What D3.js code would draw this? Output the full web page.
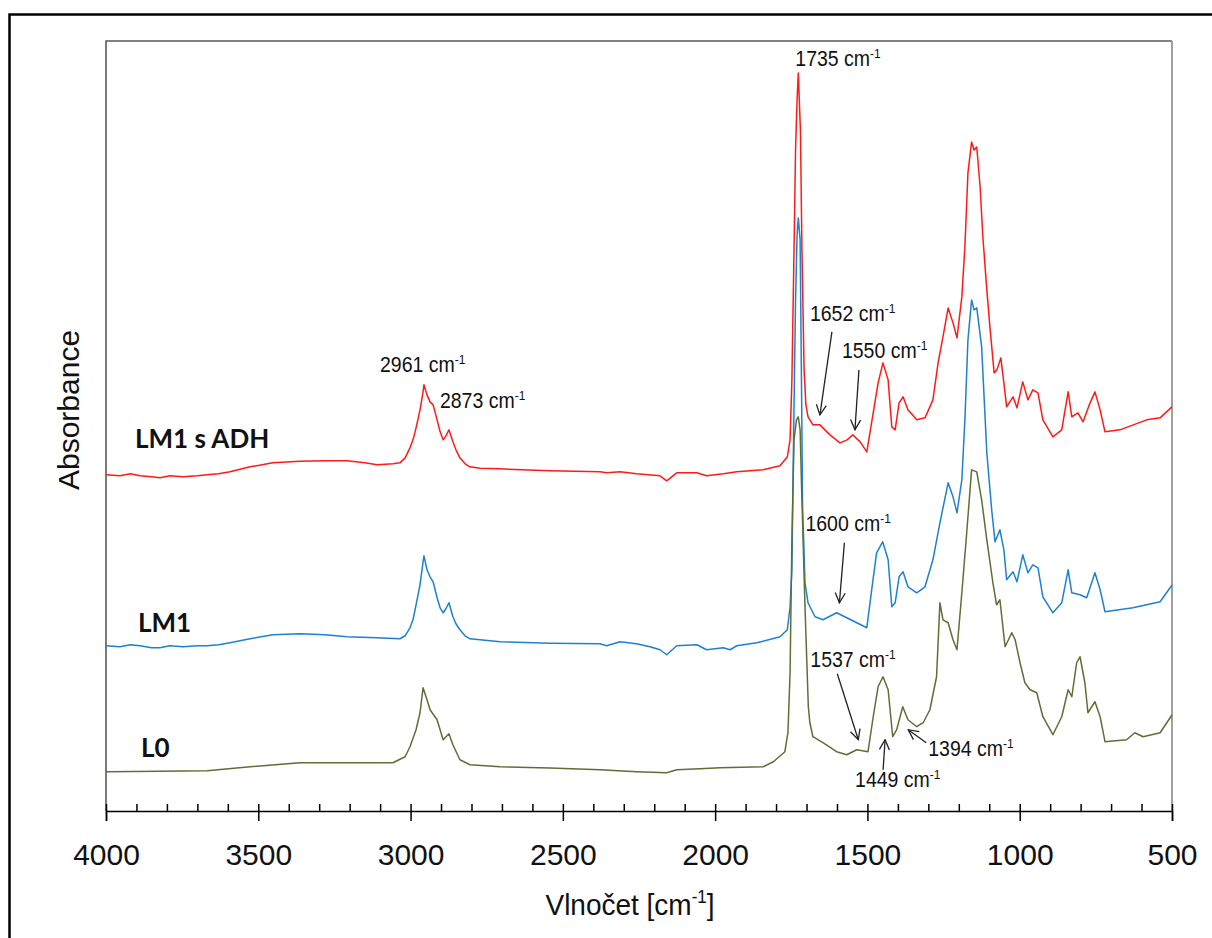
<!DOCTYPE html>
<meta charset="utf-8">
<style>
	body { margin: 0; background: #fff; }
	svg text { font-family: "Liberation Sans", Arial, sans-serif; fill: #111; }
	.series path { fill: none; stroke-width: 1.5; stroke-linejoin: round; }
	.label { font-family: Lato, "Open Sans", sans-serif; font-weight: bold; font-size: 26px; }
	.note { font-size: 19.5px; }
	.arrow { stroke: #222; stroke-width: 1.3; fill: none; }
	.axis path, .axis line { stroke: #000; stroke-width: 1.5; }
</style>
<body>
<script src="https://d3js.org/d3.v7.min.js"></script>
<script>

	// spectra: [wavenumber cm-1, absorbance (offset, a.u.)]
	var specLM1sADH = [
		[4000,0.336],[3954,0.335],[3920,0.337],[3888,0.335],[3850,0.334],[3823,0.333],[3790,0.335],[3747,0.334],
		[3700,0.335],[3668,0.336],[3630,0.337],[3593,0.339],[3527,0.344],
		[3452,0.348],[3363,0.3495],[3281,0.350],[3209,0.350],[3150,0.348],[3110,0.346],[3058,0.347],[3035,0.348],
		[3018,0.353],[3002,0.363],[2992,0.371],[2982,0.383],[2969,0.401],[2959,0.419],[2956,0.426],[2946,0.416],
		[2936,0.409],[2926,0.406],[2913,0.391],[2903,0.379],[2893,0.371],[2884,0.375],[2874,0.381],[2861,0.369],
		[2851,0.361],[2838,0.353],[2821,0.347],[2805,0.344],[2772,0.3425],[2706,0.342],[2542,0.340],[2378,0.339],
		[2356,0.338],[2312,0.339],[2258,0.337],[2181,0.335],[2159,0.330],[2126,0.338],[2060,0.338],[2028,0.335],
		[1973,0.337],[1929,0.339],[1842,0.341],[1787,0.345],[1763,0.354],[1754,0.371],[1748,0.431],[1741,0.561],
		[1736,0.661],[1731,0.711],[1727,0.738],[1720,0.681],[1715,0.561],[1708,0.441],[1702,0.406],[1695,0.394],
		[1679,0.386],[1656,0.386],[1623,0.376],[1590,0.368],[1567,0.371],[1548,0.376],[1524,0.369],[1502,0.359],
		[1481,0.398],[1465,0.428],[1449,0.448],[1432,0.431],[1420,0.384],[1409,0.381],[1396,0.408],[1383,0.414],
		[1367,0.401],[1338,0.391],[1311,0.393],[1285,0.411],[1268,0.448],[1252,0.474],[1235,0.503],[1219,0.488],
		[1206,0.473],[1190,0.514],[1180,0.564],[1170,0.638],[1158,0.669],[1150,0.661],[1141,0.664],[1130,0.624],
		[1121,0.574],[1108,0.521],[1097,0.481],[1084,0.438],[1075,0.441],[1062,0.453],[1052,0.428],[1043,0.404],
		[1022,0.414],[1009,0.403],[990,0.429],[973,0.411],[957,0.421],[940,0.418],[924,0.391],[891,0.374],
		[862,0.381],[841,0.419],[829,0.394],[809,0.398],[792,0.389],[769,0.408],[753,0.419],[736,0.401],
		[720,0.379],[671,0.381],[583,0.391],[539,0.393],[504,0.403],[500,0.404]
	];

	var specLM1 = [
		[4000,0.165],[3954,0.164],[3920,0.166],[3888,0.165],[3850,0.163],[3823,0.163],[3790,0.165],[3747,0.164],
		[3700,0.165],[3668,0.165],[3630,0.166],[3593,0.168],[3527,0.172],
		[3452,0.176],[3363,0.177],[3281,0.176],[3209,0.174],[3110,0.173],[3035,0.172],[3018,0.175],[3002,0.183],
		[2992,0.191],[2982,0.206],[2969,0.226],[2959,0.249],[2956,0.255],[2946,0.241],[2936,0.234],[2926,0.229],
		[2913,0.213],[2903,0.203],[2893,0.198],[2884,0.202],[2874,0.208],[2861,0.194],[2851,0.187],[2838,0.181],
		[2821,0.175],[2805,0.172],[2706,0.169],[2542,0.1675],[2378,0.167],[2356,0.165],[2312,0.169],[2258,0.167],
		[2214,0.164],[2181,0.161],[2159,0.156],[2126,0.165],[2060,0.166],[2028,0.161],[1973,0.163],[1951,0.161],
		[1929,0.165],[1863,0.168],[1787,0.174],[1763,0.181],[1754,0.204],[1748,0.241],[1743,0.361],[1736,0.511],
		[1731,0.576],[1727,0.593],[1721,0.571],[1716,0.411],[1713,0.305],[1705,0.228],[1695,0.208],[1672,0.194],
		[1646,0.191],[1601,0.198],[1568,0.193],[1535,0.188],[1502,0.183],[1486,0.221],[1470,0.258],[1450,0.269],
		[1432,0.251],[1420,0.204],[1409,0.208],[1396,0.234],[1383,0.239],[1367,0.224],[1338,0.218],[1311,0.224],
		[1285,0.251],[1262,0.288],[1235,0.328],[1219,0.314],[1206,0.298],[1190,0.331],[1180,0.391],[1170,0.471],
		[1158,0.511],[1150,0.501],[1141,0.503],[1125,0.464],[1108,0.358],[1092,0.301],[1081,0.269],[1065,0.281],
		[1052,0.261],[1043,0.231],[1022,0.239],[1009,0.229],[990,0.256],[973,0.238],[957,0.246],[940,0.243],
		[924,0.214],[891,0.198],[862,0.208],[841,0.241],[829,0.218],[802,0.216],[780,0.213],[753,0.238],
		[736,0.221],[720,0.199],[628,0.203],[539,0.209],[504,0.224],[500,0.226]
	];

	var specL0 = [
		[4000,0.039],[3823,0.0395],[3668,0.040],[3527,0.044],[3363,0.048],[3281,0.048],[3176,0.048],[3058,0.048],
		[3018,0.054],[3002,0.064],[2982,0.081],[2969,0.098],[2959,0.123],[2946,0.111],[2936,0.101],[2913,0.091],
		[2893,0.071],[2874,0.077],[2861,0.066],[2838,0.051],[2805,0.046],[2706,0.044],[2542,0.0427],[2378,0.041],
		[2258,0.039],[2159,0.038],[2126,0.041],[2050,0.042],[1984,0.043],[1842,0.044],[1809,0.049],[1771,0.059],
		[1761,0.078],[1754,0.138],[1748,0.271],[1741,0.371],[1733,0.391],[1727,0.394],[1721,0.381],[1716,0.321],
		[1705,0.204],[1694,0.104],[1689,0.088],[1679,0.074],[1646,0.068],[1601,0.059],[1568,0.056],[1535,0.061],
		[1498,0.059],[1481,0.094],[1465,0.124],[1449,0.134],[1432,0.121],[1417,0.074],[1404,0.081],[1384,0.104],
		[1367,0.091],[1338,0.084],[1317,0.088],[1295,0.101],[1273,0.134],[1262,0.208],[1252,0.191],[1235,0.188],
		[1219,0.171],[1206,0.161],[1190,0.218],[1174,0.278],[1158,0.341],[1141,0.339],[1125,0.311],[1108,0.271],
		[1088,0.228],[1076,0.206],[1065,0.211],[1048,0.164],[1026,0.178],[1015,0.171],[999,0.148],[983,0.128],
		[966,0.121],[944,0.118],[924,0.094],[891,0.076],[862,0.094],[841,0.121],[829,0.114],[813,0.148],
		[802,0.154],[786,0.128],[776,0.098],[753,0.109],[736,0.094],[720,0.069],[649,0.071],[622,0.078],
		[595,0.074],[539,0.078],[504,0.094],[500,0.096]
	];

	var seriesNames = ["LM1 s ADH", "LM1", "L0"];
	var majorTicks = [4000, 3500, 3000, 2500, 2000, 1500, 1000, 500];

	// peak annotations: label wavenumber, anchor [wavenumber, absorbance]
	var noteLabels = ["1735", "2961", "2873", "1652", "1550", "1600", "1537", "1449", "1394"];
	var noteAnchors = [[1727,0.738],[2956,0.426],[2874,0.381],[1656,0.396],[1541,0.381],[1592,0.208],[1530,0.071],[1442,0.071],[1366,0.081]];

	var width = 1212, height = 938;
	var margin = {top: 41, right: 40, bottom: 127, left: 106};

	var x = d3.scaleLinear().domain([4000, 500]).range([margin.left, width - margin.right]);
	var y = d3.scaleLinear().domain([0, 0.77]).range([height - margin.bottom - 0.3, margin.top]);

	var svg = d3.select("body").append("svg")
		.attr("width", width)
		.attr("height", height);

	svg.append("defs").append("marker")
		.attr("id", "head")
		.attr("viewBox", "0 0 12 12")
		.attr("refX", 11).attr("refY", 6)
		.attr("markerWidth", 12).attr("markerHeight", 12)
		.attr("markerUnits", "userSpaceOnUse")
		.attr("orient", "auto")
		.append("path")
		.attr("d", "M1,1 L11,6 L1,11")
		.attr("fill", "none")
		.attr("stroke", "#222")
		.attr("stroke-width", 1.3);

	// outer frame
	svg.append("rect")
		.attr("x", 9.5).attr("y", 14.5)
		.attr("width", 1300).attr("height", 1000)
		.attr("fill", "none").attr("stroke", "#000").attr("stroke-width", 2.5);

	var x0 = x(4000), x1 = x(500), yTop = y(0.77), yBot = height - margin.bottom;

	// plot area border
	svg.append("path")
		.attr("d", "M" + x0 + "," + yBot + "V" + yTop + "H" + x1)
		.attr("fill", "none").attr("stroke", "#5a5a5a").attr("stroke-width", 1.6);
	svg.append("line")
		.attr("x1", x1).attr("x2", x1).attr("y1", yTop).attr("y2", yBot)
		.attr("stroke", "#a0a0a0").attr("stroke-width", 2);

	// minor ticks (inside)
	var minor = d3.range(3900, 500, -100).filter(function(d) { return d % 500 !== 0; });
	svg.append("g")
		.attr("class", "axis")
		.attr("transform", "translate(0," + yBot + ")")
		.call(d3.axisBottom(x).tickValues(minor).tickSize(-7).tickFormat(""))
		.select(".domain").remove();

	// major ticks (cross) + labels
	var xAxis = svg.append("g")
		.attr("class", "axis")
		.attr("transform", "translate(0," + yBot + ")")
		.call(d3.axisBottom(x).tickValues(majorTicks).tickSizeOuter(0).tickSize(10).tickFormat(d3.format("d")));
	xAxis.selectAll(".tick line").attr("y1", -7).attr("y2", 10);
	xAxis.selectAll(".tick text")
		.attr("y", 54).attr("dy", 0)
		.style("font-size", "30px")
		.style("font-family", "'Liberation Sans', Arial, sans-serif")
		.attr("fill", "#111");

	// axis titles
	var xt = svg.append("text")
		.attr("transform", "translate(630,915) scale(1,1.05)")
		.attr("text-anchor", "middle")
		.style("font-size", "28px");
	xt.append("tspan").text("Vlnočet [cm");
	xt.append("tspan").attr("dy", -11).style("font-size", "17px").text("-1");
	xt.append("tspan").attr("dy", 11).text("]");

	svg.append("text")
		.attr("transform", "translate(79,410) rotate(-90)")
		.attr("text-anchor", "middle")
		.style("font-size", "30px")
		.text("Absorbance");

	// spectra
	var line = d3.line()
		.x(function(d) { return x(d[0]); })
		.y(function(d) { return y(d[1]); });

	var specs = [specLM1sADH, specLM1, specL0];
	var colors = ["#ff1a1a", "#1f80d0", "#5e6f36"];

	svg.selectAll(".series")
		.data(specs)
		.enter().append("g")
		.attr("class", "series")
		.append("path")
		.attr("d", line)
		.attr("stroke", function(d, i) { return colors[i]; });

	// series labels
	var labelPos = [[135, 448], [138, 632], [141, 757]];
	svg.selectAll(".label")
		.data(seriesNames)
		.enter().append("text")
		.attr("class", "label")
		.attr("x", function(d, i) { return labelPos[i][0]; })
		.attr("y", function(d, i) { return labelPos[i][1]; })
		.text(function(d) { return d; });

	// annotation layout: text offset [dx, dy], arrow tail offset [dx, dy] (null = no arrow)
	var noteText = [[-3, -7], [-44, -13], [-9, -22], [-10, -94], [-13, -72], [-34, -72], [-48, -73], [-30, 47], [20, 26]];
	var noteTail = [null, null, null, [12, -83], [4, -60], [5, -60], [-21, -66], [-2, 30], [18, 13]];

	noteLabels.forEach(function(lab, i) {
		var ax = x(noteAnchors[i][0]), ay = y(noteAnchors[i][1]);
		if (noteTail[i]) {
			svg.append("line")
				.attr("class", "arrow")
				.attr("x1", ax + noteTail[i][0]).attr("y1", ay + noteTail[i][1])
				.attr("x2", ax).attr("y2", ay)
				.attr("marker-end", "url(#head)");
		}
		var t = svg.append("text")
			.attr("class", "note")
			.attr("transform", "translate(" + (ax + noteText[i][0]) + "," + (ay + noteText[i][1]) + ") scale(1,1.12)");
		t.append("tspan").text(lab + " cm");
		t.append("tspan").attr("dy", -7).style("font-size", "12px").text("-1");
	});

</script>
